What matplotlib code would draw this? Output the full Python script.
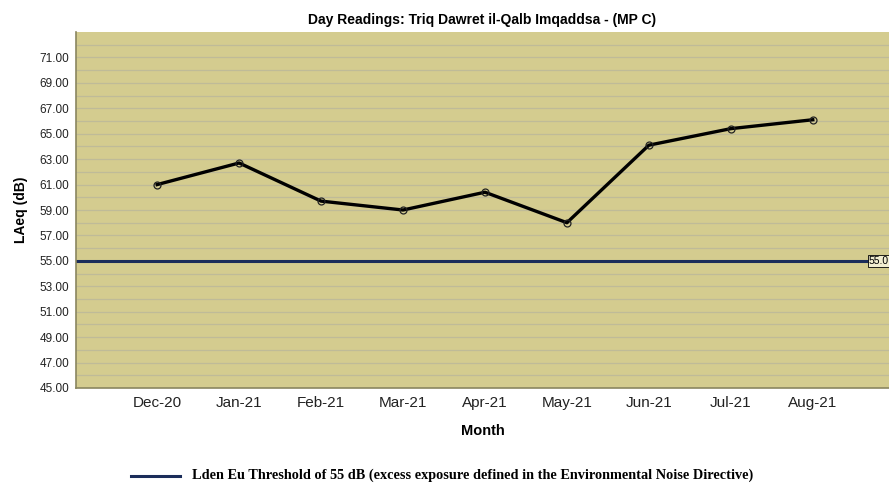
import numpy as np
import matplotlib
matplotlib.use("Agg")
import matplotlib.pyplot as plt

months = ["Dec-20", "Jan-21", "Feb-21", "Mar-21", "Apr-21", "May-21", "Jun-21", "Jul-21", "Aug-21"]
laeq = [61.0, 62.7, 59.7, 59.0, 60.4, 58.0, 64.1, 65.4, 66.1]
threshold = 55.0
y_ticks = [45, 47, 49, 51, 53, 55, 57, 59, 61, 63, 65, 67, 69, 71]

plt.rcParams['font.family'] = ['Liberation Sans', 'DejaVu Sans']

fig = plt.figure(figsize=(8.89, 4.83), dpi=100)
ax = fig.add_axes([0.0855, 0.1967, 0.9145, 0.737])

ax.set_facecolor("#d4cc8f")
x = np.arange(len(months))

# grid every 1 dB
for v in np.arange(46, 73, 1):
    ax.axhline(v, color="#bfbb98", lw=0.9, zorder=1)

ax.axhline(threshold, color="#1b2d5a", lw=2.2, zorder=2)
ax.plot(x, laeq, color="black", lw=2.4, zorder=3)
ax.plot(x, laeq, "o", ms=5, mfc="none", mec="#222222", mew=0.9, zorder=4)

ax.set_xlim(-0.99, 8.93)
ax.set_ylim(45, 73)
ax.set_xticks(x)
ax.set_xticklabels(months, fontsize=11, color="#222222")
ax.set_yticks(y_ticks)
ax.set_yticklabels(["%.2f" % v for v in y_ticks], fontsize=8.5, color="#222222")
ax.tick_params(length=0, pad=5)
ax.tick_params(axis="x", pad=6)

for s in ["top", "right"]:
    ax.spines[s].set_visible(False)
for s in ["left", "bottom"]:
    ax.spines[s].set_color("#8a8660")
    ax.spines[s].set_linewidth(1.2)

ax.text(8.93, threshold, "55.0", fontsize=7.5, ha="right", va="center", zorder=5,
        bbox=dict(boxstyle="square,pad=0.1", fc="#f2eed0", ec="black", lw=0.6))

ax.set_title("Day Readings: Triq Dawret il-Qalb Imqaddsa - (MP C)", fontsize=10, fontweight="bold", pad=6)
ax.set_ylabel("LAeq (dB)", fontsize=10, fontweight="bold", labelpad=8)
ax.set_xlabel("Month", fontsize=10.5, fontweight="bold", labelpad=10)

fig.add_artist(plt.Line2D([0.147, 0.203], [0.015, 0.015], color="#1b2d5a", lw=2.2))
fig.text(0.216, 0.017, "Lden Eu Threshold of 55 dB (excess exposure defined in the Environmental Noise Directive)",
         fontsize=10.3, fontweight="bold", family="Liberation Serif", va="center")

fig.savefig("out.png", dpi=100)
